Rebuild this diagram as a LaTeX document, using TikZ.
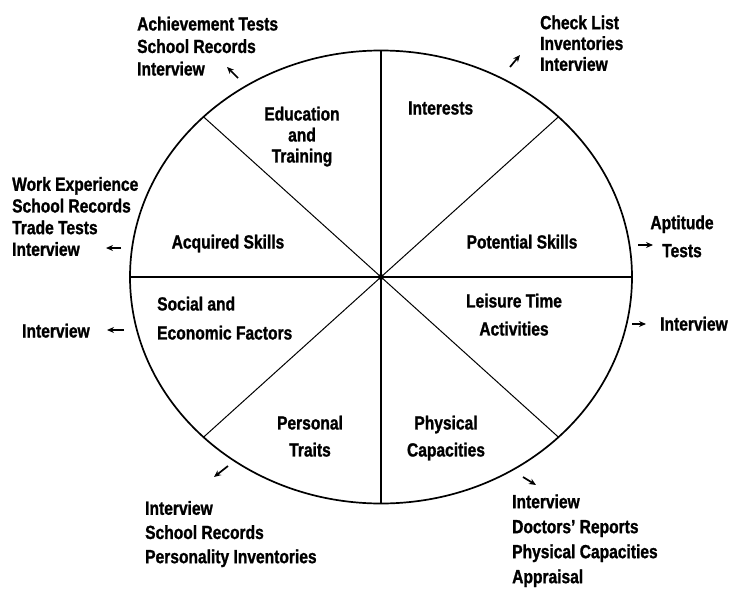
\documentclass[tikz,border=0pt]{standalone}
\usepackage{fontspec}
\setmainfont{Liberation Sans}[FakeStretch=0.82, BoldFeatures={FakeBold=1.2}]
\usetikzlibrary{arrows.meta}
\begin{document}
\begin{tikzpicture}[x=1pt,y=-1pt,
  lbl/.style={font=\bfseries\fontsize{19}{#1}\selectfont, inner sep=0pt},
  lbl/.default=22,
  arr/.style={line width=1.7pt,-{Stealth[length=7pt,width=6pt]}},
  mainline/.style={line width=1.7pt},
  diagline/.style={line width=1pt}]
\useasboundingbox (0,0) rectangle (744,589);

% geometry
\coordinate (C) at (381,277);
\coordinate (T) at (381,50.5);
\coordinate (B) at (381,503.5);
\coordinate (L) at (130,277);
\coordinate (R) at (632,277);
\coordinate (UR) at (558.5,116.8);
\coordinate (UL) at (203.5,116.8);
\coordinate (LR) at (558.5,437.2);
\coordinate (LL) at (203.5,437.2);

\draw[mainline] (C) ellipse [x radius=251pt, y radius=226.5pt];
\draw[mainline] (T) -- (B);
\draw[mainline] (L) -- (R);
\draw[diagline] (UL) -- (LR);
\draw[diagline] (UR) -- (LL);
\fill (C) circle [radius=3pt];

% inside labels
\node[lbl=21, align=center, anchor=north] (edu) at (302,106.5) {Education\\and\\Training};
\node[lbl, anchor=base west] (int) at (408,114.5) {Interests};
\node[lbl, anchor=base] (acq) at (228,248.5) {Acquired Skills};
\node[lbl, anchor=base] (pot) at (522,248.5) {Potential Skills};
\node[lbl=29, align=left, anchor=north west] (soc) at (157,296.5) {Social and\\Economic Factors};
\node[lbl=28, align=center, anchor=north] (lei) at (514,293.5) {Leisure Time\\Activities};
\node[lbl=27, align=center, anchor=north] (per) at (310,415.5) {Personal\\Traits};
\node[lbl=27, align=center, anchor=north] (phy) at (446,415.5) {Physical\\Capacities};

% outside labels
\node[lbl=22.5, align=left, anchor=north west] (ach) at (137,16.5) {Achievement Tests\\School Records\\Interview};
\node[lbl=20.8, align=left, anchor=north west] (chk) at (540,15.2) {Check List\\Inventories\\Interview};
\node[lbl=28, align=center, anchor=north] (apt) at (682,215.2) {Aptitude\\Tests};
\node[lbl, anchor=base west] (rint) at (660,330.5) {Interview};
\node[lbl=21.7, align=left, anchor=north west] (work) at (12,176.8) {Work Experience\\School Records\\Trade Tests\\Interview};
\node[lbl, anchor=base west] (lint) at (22,337.5) {Interview};
\node[lbl=24.2, align=left, anchor=north west] (ll) at (145,500.8) {Interview\\School Records\\Personality Inventories};
\node[lbl=25, align=left, anchor=north west] (lr) at (512,494.2) {Interview\\Doctors' Reports\\Physical Capacities\\Appraisal};

% arrows
\coordinate (a1s) at (238,78);  \coordinate (a1e) at (227,67);
\coordinate (a2s) at (121,248); \coordinate (a2e) at (106,248);
\coordinate (a3s) at (124,330); \coordinate (a3e) at (107,330);
\coordinate (a4s) at (228,466); \coordinate (a4e) at (214,477);
\coordinate (a5s) at (523,477); \coordinate (a5e) at (536,485);
\coordinate (a6s) at (632,324); \coordinate (a6e) at (646,324);
\coordinate (a7s) at (638,245); \coordinate (a7e) at (653,245);
\coordinate (a8s) at (510,67);  \coordinate (a8e) at (520,55);
\foreach \i in {1,...,8} \draw[arr] (a\i s) -- (a\i e);
\end{tikzpicture}
\end{document}
